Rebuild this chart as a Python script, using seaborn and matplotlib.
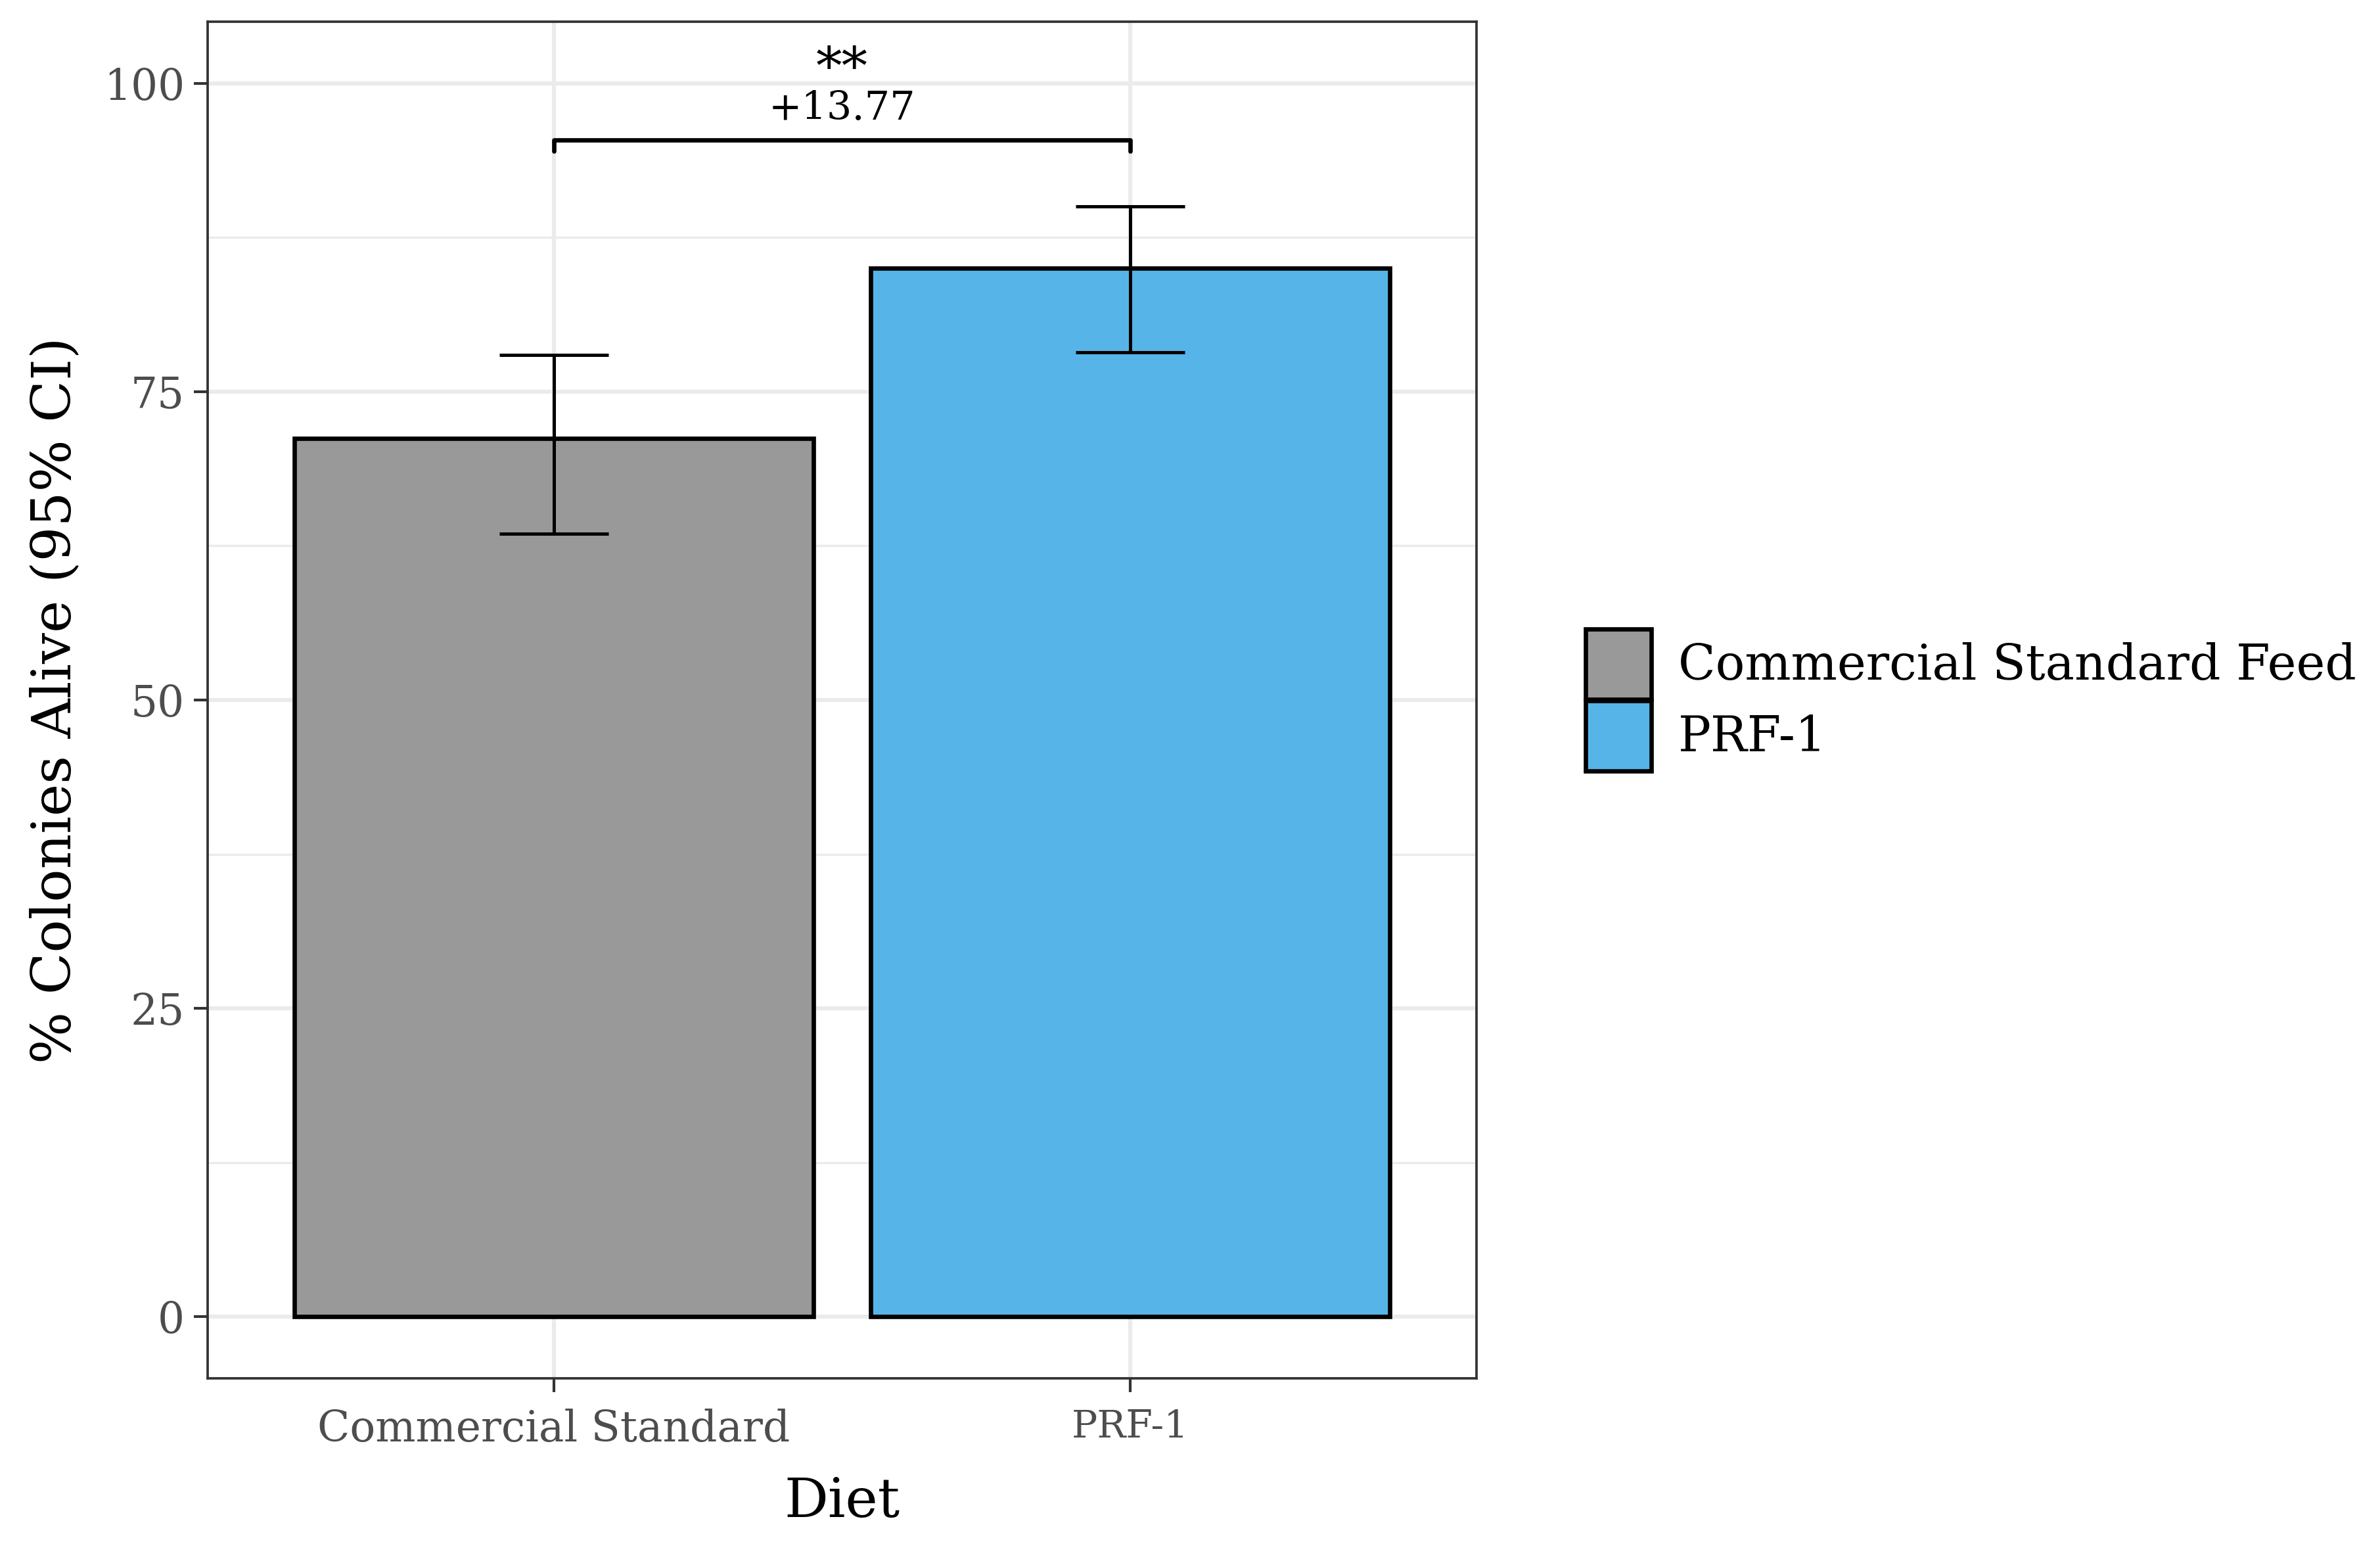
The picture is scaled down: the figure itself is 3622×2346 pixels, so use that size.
import numpy as np
import pandas as pd
import seaborn as sns
import matplotlib.pyplot as plt
from matplotlib.patches import Patch

# values
diets = ['Commercial Standard', 'PRF-1']
legend_labels = ['Commercial Standard Feed', 'PRF-1']
pct_alive = [71.2, 85.0]
ci_low = [63.5, 78.2]
ci_high = [78.0, 90.0]
colors = ['#999999', '#56B4E9']
bracket_y = 95.4
bracket_drop = 0.9
diff_label = '+13.77'
sig_label = '**'

df = pd.DataFrame({'Diet': diets, 'Alive': pct_alive, 'Group': legend_labels})

sns.set_theme(style='white')
plt.rcParams['font.family'] = ['DejaVu Serif']
plt.rcParams['text.color'] = 'black'

fig = plt.figure(figsize=(3622 / 300, 2346 / 300), dpi=300)
ax = fig.add_axes([0.0873, 0.106, 0.533, 0.880])

sns.barplot(data=df, x='Diet', y='Alive', hue='Group', palette=colors,
            order=diets, hue_order=legend_labels, dodge=False, width=0.9,
            saturation=1, edgecolor='black', linewidth=1.6, errorbar=None,
            legend=False, ax=ax)

xs = np.arange(len(diets))
yerr = [np.array(pct_alive) - np.array(ci_low), np.array(ci_high) - np.array(pct_alive)]
ax.errorbar(xs, pct_alive, yerr=yerr, fmt='none', ecolor='black',
            elinewidth=1.2, capsize=20, capthick=1.2, zorder=5)

# significance bracket
ax.plot([xs[0], xs[0], xs[1], xs[1]],
        [bracket_y - bracket_drop, bracket_y, bracket_y, bracket_y - bracket_drop],
        color='black', lw=1.6, zorder=5)
ax.text(xs.mean(), bracket_y + 1.0, diff_label, ha='center', va='bottom', fontsize=14.5, color='black')
ax.text(xs.mean(), bracket_y + 3.7, sig_label, ha='center', va='bottom', fontsize=19, color='black')

ax.set_xlim(-0.6, 1.6)
ax.set_ylim(-5, 105)
ax.set_yticks([0, 25, 50, 75, 100])
ax.set_yticks([12.5, 37.5, 62.5, 87.5], minor=True)
ax.grid(True, which='major', color='#ebebeb', lw=1.5, zorder=0)
ax.grid(True, which='minor', axis='y', color='#ebebeb', lw=0.8, zorder=0)
ax.set_axisbelow(True)
for s in ax.spines.values():
    s.set_color('#333333')
    s.set_linewidth(0.9)
ax.tick_params(axis='both', which='major', direction='out', length=5, width=1.0,
               color='#333333', labelcolor='#4d4d4d', labelsize=15.5, left=True, bottom=True)
ax.tick_params(axis='x', pad=6)
ax.tick_params(axis='both', which='minor', length=0)
ax.get_xticklabels()[1].set_fontsize(14)
ax.set_xlabel('Diet', fontsize=20, color='black', labelpad=9)
ax.set_ylabel('% Colonies Alive (95% CI)', fontsize=20, color='black', labelpad=8)

handles = [Patch(facecolor=c, edgecolor='black', linewidth=1.6) for c in colors]
leg = fig.legend(handles, legend_labels, loc='center left', bbox_to_anchor=(0.658, 0.546),
                 frameon=False, fontsize=17.8, handlelength=1.35, handleheight=1.85,
                 handletextpad=0.55, labelspacing=0.02, borderaxespad=0)
for t in leg.get_texts():
    t.set_color('black')

fig.savefig('out.png', dpi=300)
